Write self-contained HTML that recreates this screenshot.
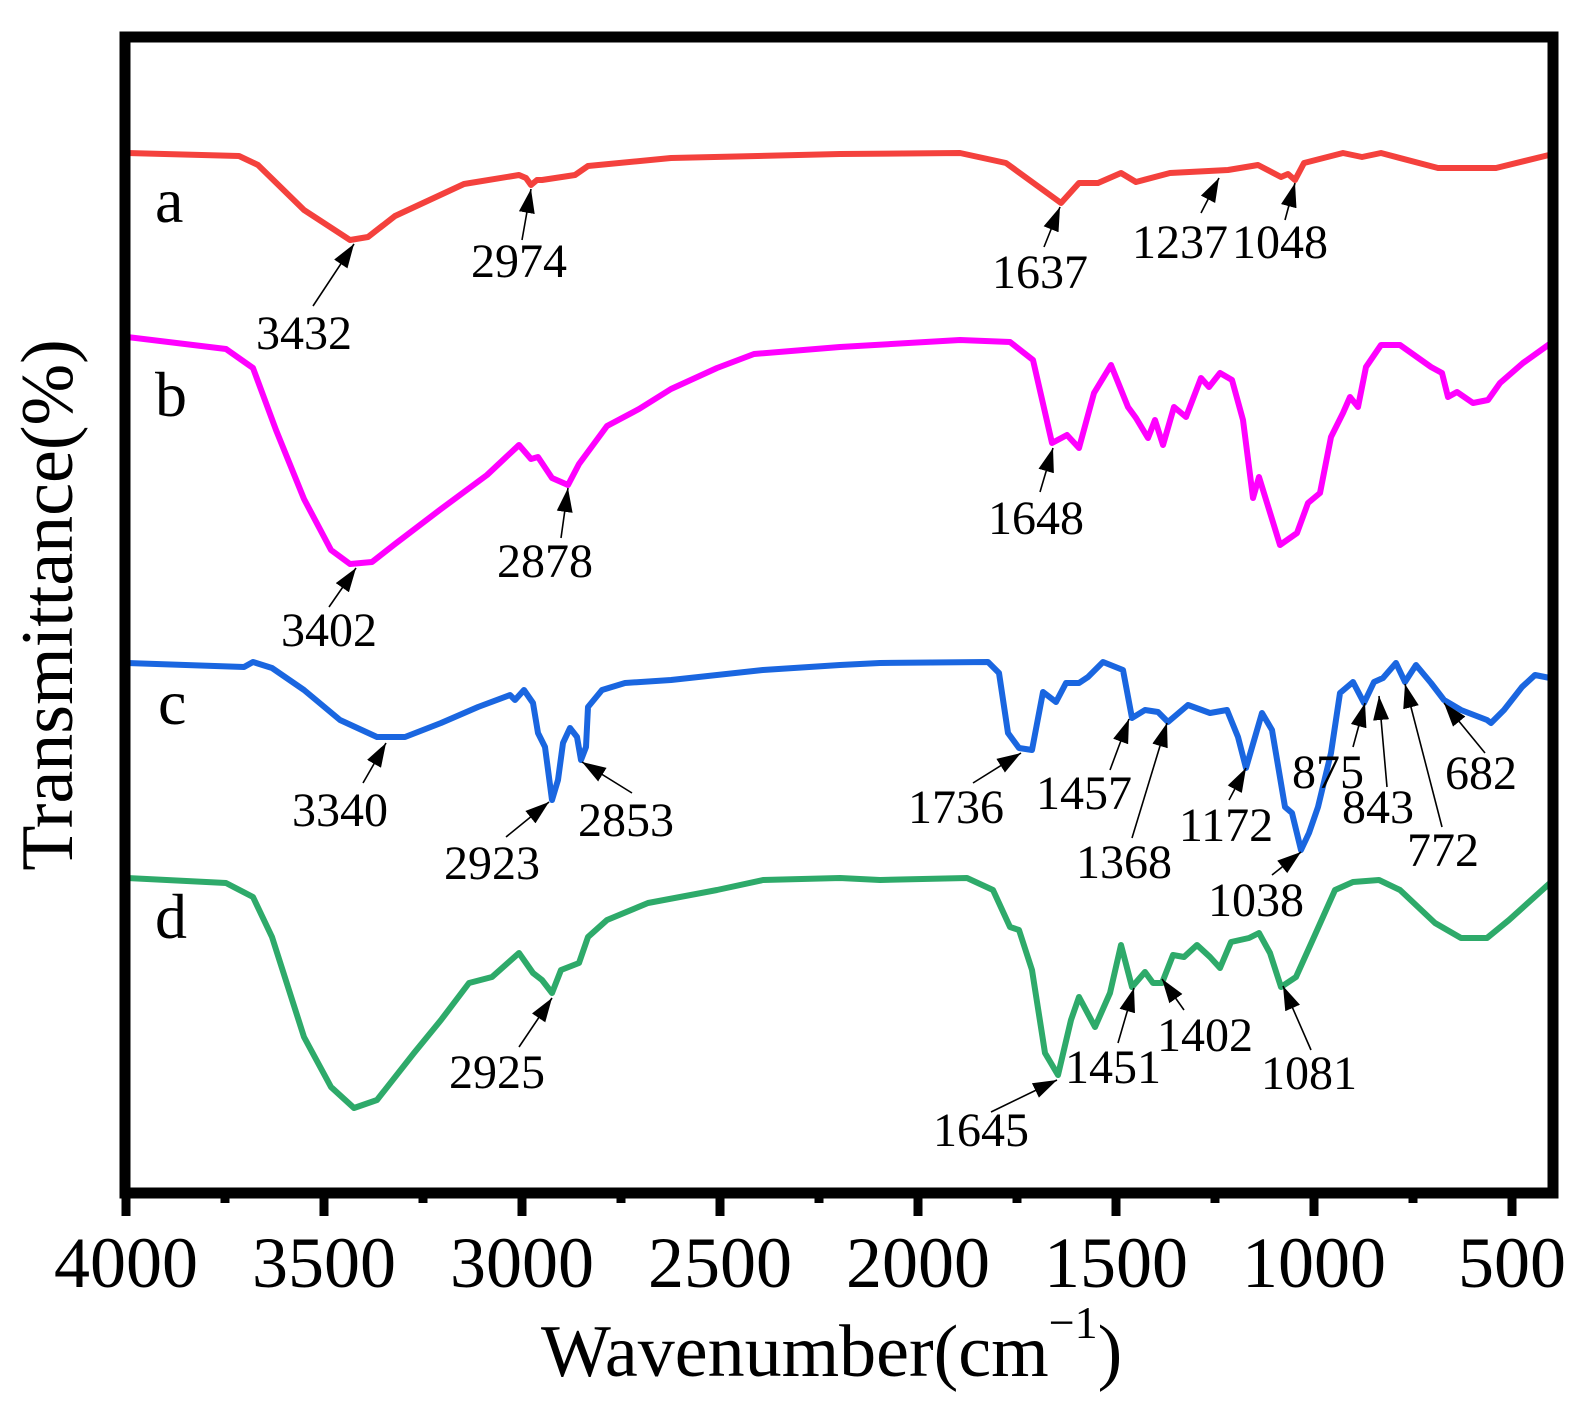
<!DOCTYPE html>
<html><head><meta charset="utf-8"><style>
html,body{margin:0;padding:0;background:#fff;}
svg{display:block;}
text{font-family:"Liberation Serif",serif;fill:#000;}
</style></head><body>
<svg width="1579" height="1416" viewBox="0 0 1579 1416" xmlns="http://www.w3.org/2000/svg">
<defs>
<marker id="a" markerWidth="26" markerHeight="18" refX="24" refY="9" orient="auto" markerUnits="userSpaceOnUse">
<path d="M0,1 L24,9 L0,17 Z" fill="#000"/>
</marker>
</defs>
<g fill="none" stroke-linejoin="round" stroke-linecap="round" stroke-width="6">
<polyline stroke="#f4413d" points="127,153 239,156 258,165 304,210 350,240 368,237 395,216 464,184 519,175 526,178 531,185 537,180 542,180 575,175 588,166 671,158 840,154 960,153 1006,163 1061,203 1079,183 1098,183 1121,173 1136,182 1170,173 1228,170 1258,165 1281,177 1288,174 1295,180 1304,163 1343,153 1362,157 1381,153 1438,168 1496,168 1549,155"/>
<polyline stroke="#ff00ff" points="127,337 226,349 253,368 276,430 304,499 331,550 350,564 372,562 395,544 441,509 487,475 519,445 531,459 538,457 552,478 568,485 579,464 607,426 639,409 671,389 717,368 754,354 840,347 960,340 1010,342 1033,360 1052,443 1067,435 1079,448 1094,393 1111,365 1128,407 1136,418 1148,438 1155,420 1163,445 1174,407 1186,417 1201,378 1209,387 1220,373 1232,380 1243,420 1253,498 1259,477 1280,545 1297,533 1308,503 1320,493 1331,437 1343,413 1350,397 1358,407 1366,367 1381,345 1400,345 1431,367 1442,373 1448,397 1457,392 1473,403 1488,400 1500,383 1523,363 1551,343"/>
<polyline stroke="#1a66e0" points="127,663 244,667 253,662 272,668 304,690 340,720 377,737 405,737 441,723 478,707 510,695 515,700 524,690 533,703 538,733 545,747 552,800 558,780 563,743 570,728 577,737 581,760 586,747 588,707 602,690 625,683 671,680 763,670 840,665 880,663 988,662 999,673 1008,733 1019,748 1032,750 1043,692 1056,702 1066,683 1079,683 1088,677 1103,662 1123,670 1132,718 1145,710 1158,712 1168,722 1188,705 1210,713 1227,710 1238,737 1246,768 1262,713 1272,730 1285,807 1292,813 1301,850 1309,833 1318,807 1331,753 1340,693 1353,682 1364,703 1374,682 1383,678 1396,663 1405,682 1416,665 1431,683 1444,700 1461,710 1487,720 1491,723 1504,710 1522,687 1535,675 1550,678"/>
<polyline stroke="#2eaa6a" points="127,878 226,883 253,897 272,937 304,1037 331,1087 354,1108 377,1100 414,1053 441,1020 469,983 492,977 519,953 533,973 542,980 552,993 561,970 579,963 588,937 607,920 648,903 717,890 763,880 840,878 880,880 967,878 993,890 1010,927 1019,930 1032,970 1045,1053 1058,1075 1071,1020 1079,997 1095,1027 1110,993 1121,945 1132,987 1145,972 1153,983 1162,983 1173,955 1184,957 1197,945 1210,957 1220,968 1231,942 1249,938 1259,933 1270,953 1281,987 1296,977 1314,937 1335,890 1353,882 1379,880 1400,890 1435,923 1461,938 1487,938 1509,920 1550,883"/>
</g>
<g stroke="#000" stroke-width="1.6" marker-end="url(#a)">
<line x1="313" y1="306" x2="354" y2="244"/>
<line x1="522" y1="240" x2="531" y2="189"/>
<line x1="1044" y1="247" x2="1060" y2="207"/>
<line x1="1201" y1="213" x2="1219" y2="178"/>
<line x1="1285" y1="220" x2="1295" y2="183"/>
<line x1="329" y1="607" x2="356" y2="568"/>
<line x1="561" y1="538" x2="568" y2="488"/>
<line x1="1040" y1="492" x2="1053" y2="448"/>
<line x1="363" y1="783" x2="386" y2="743"/>
<line x1="506" y1="837" x2="549" y2="802"/>
<line x1="632" y1="793" x2="582" y2="762"/>
<line x1="973" y1="783" x2="1021" y2="753"/>
<line x1="1110" y1="770" x2="1129" y2="719"/>
<line x1="1132" y1="838" x2="1167" y2="723"/>
<line x1="1229" y1="800" x2="1246" y2="768"/>
<line x1="1272" y1="875" x2="1301" y2="852"/>
<line x1="1353" y1="747" x2="1365" y2="703"/>
<line x1="1387" y1="787" x2="1379" y2="696"/>
<line x1="1442" y1="827" x2="1405" y2="684"/>
<line x1="1485" y1="753" x2="1444" y2="703"/>
<line x1="519" y1="1047" x2="552" y2="998"/>
<line x1="991" y1="1112" x2="1057" y2="1080"/>
<line x1="1118" y1="1043" x2="1134" y2="988"/>
<line x1="1184" y1="1010" x2="1162" y2="979"/>
<line x1="1311" y1="1050" x2="1283" y2="986"/>
</g>
<g font-size="48" text-anchor="middle">
<text x="304" y="349">3432</text>
<text x="519" y="277">2974</text>
<text x="1040" y="288">1637</text>
<text x="1180" y="258">1237</text>
<text x="1280" y="258">1048</text>
<text x="329" y="646">3402</text>
<text x="545" y="577">2878</text>
<text x="1036" y="534">1648</text>
<text x="340" y="826">3340</text>
<text x="492" y="879">2923</text>
<text x="626" y="836">2853</text>
<text x="956" y="823">1736</text>
<text x="1084" y="809">1457</text>
<text x="1124" y="878">1368</text>
<text x="1226" y="841">1172</text>
<text x="1256" y="916">1038</text>
<text x="1328" y="788">875</text>
<text x="1378" y="823">843</text>
<text x="1443" y="866">772</text>
<text x="1481" y="789">682</text>
<text x="497" y="1088">2925</text>
<text x="981" y="1146">1645</text>
<text x="1113" y="1083">1451</text>
<text x="1205" y="1051">1402</text>
<text x="1309" y="1089">1081</text>
</g>
<g font-size="64">
<text x="155" y="222">a</text>
<text x="155" y="416">b</text>
<text x="158" y="724">c</text>
<text x="155" y="938">d</text>
</g>
<rect x="125" y="37" width="1428" height="1156" fill="none" stroke="#000" stroke-width="11"/>
<g stroke="#000" stroke-width="9">
<line x1="126" y1="1193" x2="126" y2="1216"/>
<line x1="324" y1="1193" x2="324" y2="1216"/>
<line x1="522" y1="1193" x2="522" y2="1216"/>
<line x1="720" y1="1193" x2="720" y2="1216"/>
<line x1="918" y1="1193" x2="918" y2="1216"/>
<line x1="1116" y1="1193" x2="1116" y2="1216"/>
<line x1="1314" y1="1193" x2="1314" y2="1216"/>
<line x1="1512" y1="1193" x2="1512" y2="1216"/>
<line x1="225" y1="1193" x2="225" y2="1203"/>
<line x1="423" y1="1193" x2="423" y2="1203"/>
<line x1="621" y1="1193" x2="621" y2="1203"/>
<line x1="819" y1="1193" x2="819" y2="1203"/>
<line x1="1017" y1="1193" x2="1017" y2="1203"/>
<line x1="1215" y1="1193" x2="1215" y2="1203"/>
<line x1="1413" y1="1193" x2="1413" y2="1203"/>
</g>
<g font-size="72" text-anchor="middle">
<text x="126" y="1287">4000</text>
<text x="324" y="1287">3500</text>
<text x="522" y="1287">3000</text>
<text x="720" y="1287">2500</text>
<text x="918" y="1287">2000</text>
<text x="1116" y="1287">1500</text>
<text x="1314" y="1287">1000</text>
<text x="1512" y="1287">500</text>
</g>
<text x="541" y="1376" font-size="74">Wavenumber(cm<tspan font-size="46" dy="-38">−1</tspan><tspan dy="38">)</tspan></text>
<text transform="translate(72,605) rotate(-90)" font-size="74" text-anchor="middle">Transmittance(%)</text>
</svg>
</body></html>
